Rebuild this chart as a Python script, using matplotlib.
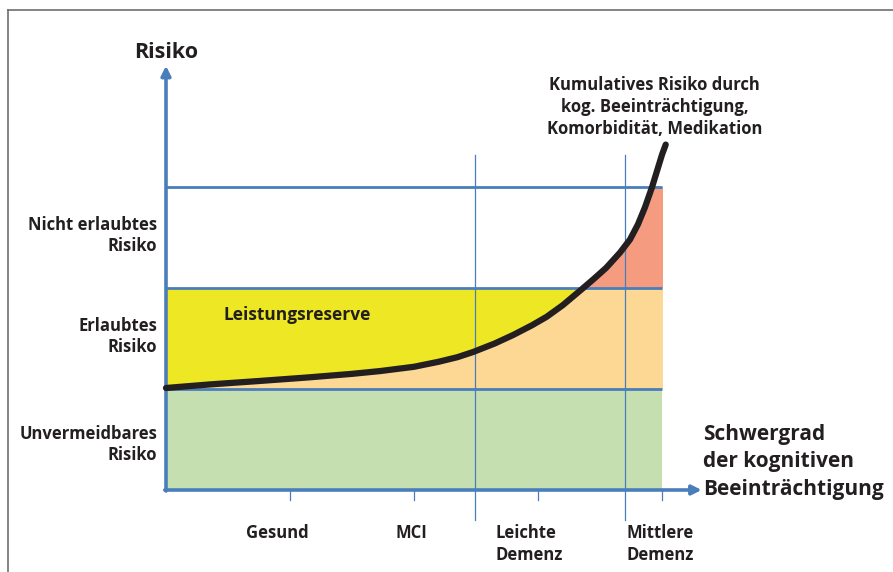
import numpy as np
import matplotlib.pyplot as plt
from matplotlib.patches import Rectangle
from matplotlib.lines import Line2D

# curve (severity, risk)
curve_x = [0.0, 0.35, 0.76, 1.15, 1.5, 1.73, 2.0, 2.2, 2.35, 2.476, 2.65, 2.8, 2.95, 3.07, 3.2, 3.355,
           3.45, 3.55, 3.661, 3.742, 3.806, 3.863, 3.92, 3.96, 4.0, 4.03]
curve_y = [1.01, 1.045, 1.08, 1.115, 1.15, 1.178, 1.22, 1.27, 1.315, 1.366, 1.45, 1.535, 1.63, 1.715, 1.83, 1.99,
           2.09, 2.20, 2.35, 2.48, 2.63, 2.80, 3.0, 3.16, 3.32, 3.42]

zone_labels = ['Unvermeidbares\nRisiko', 'Erlaubtes\nRisiko', 'Nicht erlaubtes\nRisiko']
zone_y = [0.45, 1.52, 2.52]
stage_labels = ['Gesund', 'MCI', 'Leichte\nDemenz', 'Mittlere\nDemenz']
stage_x = [0.9, 1.98, 2.66, 3.71]
tick_x = [1, 2, 3, 4]
stage_bounds = [2.49, 3.70]
levels = [1, 2, 3]

blue = '#4a7ebb'
txt = '#231f20'
plt.rcParams['font.family'] = ['Open Sans', 'DejaVu Sans']

fig = plt.figure(figsize=(8.93, 5.72), dpi=100)
ax = fig.add_axes([0, 0, 1, 1])
ax.set_xlim(-166 / 124, (893 - 166) / 124)
ax.set_ylim(-(572 - 490) / 101, 490 / 101)
ax.axis('off')

# frame
fig.add_artist(Line2D([8 / 893, 1], [1 - 10 / 572, 1 - 10 / 572], color='#6d6e71', lw=1.2))
fig.add_artist(Line2D([8 / 893, 8 / 893], [0, 1 - 10 / 572], color='#6d6e71', lw=1.2))

cx = np.array(curve_x)
cy = np.array(curve_y)

# zones
ax.add_patch(Rectangle((0, 0), 4, 1, color='#c5dfb0', lw=0, zorder=1))
ax.add_patch(Rectangle((0, 1), 4, 1, color='#ede823', lw=0, zorder=1))
p1 = ax.fill_between(cx, 1, cy, color='#fdd895', lw=0, zorder=2)
p1.set_clip_path(Rectangle((0, 1), 4, 1, transform=ax.transData))
p2 = ax.fill_between(cx, 2, cy, color='#f59c80', lw=0, zorder=2)
p2.set_clip_path(Rectangle((0, 2), 4, 1, transform=ax.transData))

for lv in levels:
    ax.plot([0, 4], [lv, lv], color=blue, lw=2.0, zorder=3, solid_capstyle='butt')
for b in stage_bounds:
    ax.plot([b, b], [-0.3, 3.32], color=blue, lw=0.9, zorder=3)
for t in tick_x:
    ax.plot([t, t], [0, -0.1], color=blue, lw=0.9, zorder=3)

# axes with arrows
ax.annotate('', xy=(4.32, 0), xytext=(-0.01, 0),
            arrowprops=dict(arrowstyle='-|>', color=blue, lw=2.6, mutation_scale=14, shrinkA=0, shrinkB=0), zorder=4)
ax.annotate('', xy=(0, 4.2), xytext=(0, -0.01),
            arrowprops=dict(arrowstyle='-|>', color=blue, lw=2.6, mutation_scale=14, shrinkA=0, shrinkB=0), zorder=4)

ax.plot(cx, cy, color=txt, lw=4.5, solid_capstyle='round', solid_joinstyle='round', zorder=5)

# texts
ax.text(0, 4.33, 'Risiko', fontsize=15.5, fontweight='bold', color=txt, ha='center', va='center')
ax.text(3.94, 3.79, 'Kumulatives Risiko durch\nkog. Beeinträchtigung,\nKomorbidität, Medikation',
        fontsize=12, fontweight='bold', color=txt, ha='center', va='center', linespacing=1.28)
for lab, y in zip(zone_labels, zone_y):
    ax.text(-0.07, y, lab, fontsize=12, fontweight='bold', color=txt, ha='right', va='center', linespacing=1.25)
ax.text(0.46, 1.73, 'Leistungsreserve', fontsize=12.5, fontweight='bold', color=txt, ha='left', va='center')
for lab, x in zip(stage_labels, stage_x):
    ha = 'center' if '\n' not in lab else 'left'
    ax.text(x, -0.34, lab, fontsize=12, fontweight='bold', color=txt, ha=ha, va='top', linespacing=1.25)
ax.text(4.33, 0.28, 'Schwergrad\nder kognitiven\nBeeinträchtigung', fontsize=15, fontweight='bold',
        color=txt, ha='left', va='center', linespacing=1.4)

fig.savefig('out.png', dpi=100)
